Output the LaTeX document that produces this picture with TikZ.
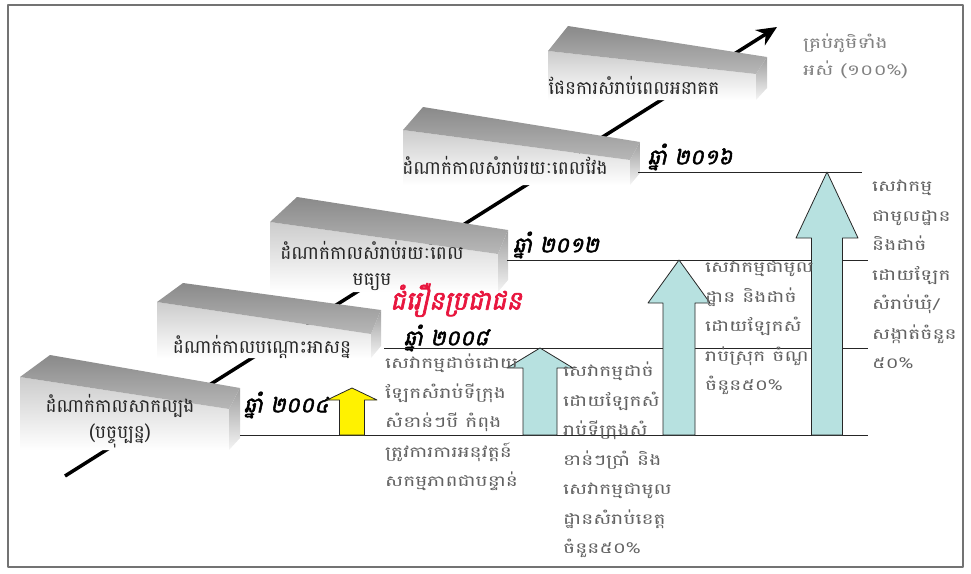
\documentclass[tikz,border=0pt]{standalone}
\usepackage{fontspec}
\newfontfamily\khmer[Script=Khmer]{Battambang}
\newfontfamily\khmerwide[Script=Khmer,FakeStretch=1.35]{Battambang}
\newfontfamily\khmeryear[Script=Khmer,FakeSlant=0.22,FakeBold=2.5]{Battambang}
\usetikzlibrary{arrows.meta,positioning}

\definecolor{upcyan}{RGB}{183,225,224}
\definecolor{censusred}{RGB}{232,22,62}

\tikzset{
  stage/.style={font=\khmer\fontsize{18.5}{26}\selectfont, text=black!85, align=center, inner sep=0pt},
  year/.style={font=\khmeryear\fontsize{21.5}{24}\selectfont, inner sep=0pt},
  note/.style={font=\khmerwide\fontsize{15}{29.5}\selectfont, text=black!62, align=left, anchor=north west, inner sep=0pt},
  uparrow/.style={draw=black!85, line width=0.8pt, fill=upcyan},
  yearline/.style={line width=1pt, black!85}
}

% brick: back left, back right, front right, front left, bottom
\newcommand{\brick}[9]{%
  \shade[top color=black!20, bottom color=white] (#7,#8) -- (#5,#6) -- (#5,#9) -- (#7,#9) -- cycle;
  \shade[top color=black!38, bottom color=black!4] (#5,#6) -- (#3,#4) -- (#3,{#9-12}) -- (#5,#9) -- cycle;
  \shade[top color=black!46, bottom color=black!28] (#1,#2) -- (#3,#4) -- (#5,#6) -- (#7,#8) -- cycle;
}

% up arrow: x, tip y, base y, head half width, shaft half width, head length
\newcommand{\uparr}[7][uparrow]{%
  \draw[#1] (#2,#3) -- ({#2+#5},{#3+#7}) -- ({#2+#6},{#3+#7}) -- ({#2+#6},#4)
    -- ({#2-#6},#4) -- ({#2-#6},{#3+#7}) -- ({#2-#5},{#3+#7}) -- cycle;
}

\begin{document}
\begin{tikzpicture}[x=1pt,y=-1pt,line join=round]
\useasboundingbox (0,0) rectangle (971,573);
\draw[black!55, line width=1.5pt] (8,5) rectangle (963,567);

% the trend line behind the stages
\coordinate (start) at (65,476);
\coordinate (future) at (777,27);
\draw[line width=3.5pt, -{Stealth[length=20pt,width=18pt]}] (start) -- (future);

\brick{568}{26}{767}{57}{756}{74}{548}{51}{100}
\brick{423}{107}{640}{142}{630}{160}{403}{130}{185}
\brick{297}{197}{508}{230}{498}{254}{270}{222}{292}
\brick{183}{283}{381}{310}{371}{334}{157}{302}{358}
\brick{50}{355}{240}{388}{229}{409}{20}{377}{450}

\node[stage] (s5) at (634,85) {ផែនការសំរាប់ពេលអនាគត};
\node[stage] (s4) at (505,165) {ដំណាក់កាលសំរាប់រយៈពេលវែង};
\node[stage] (s3) at (372,266) {ដំណាក់កាលសំរាប់រយៈពេល\\មធ្យម};
\node[stage] (s2) at (262,347) {ដំណាក់កាលបណ្ដោះអាសន្ន};
\node[stage] (s1) at (120,421) {ដំណាក់កាលសាកល្បង\\(បច្ចុប្បន្ន)};

% years and their lines
\node[year] (y2004) at (286,405) {ឆ្នាំ ២០០៤};
\node[year] (y2008) at (446,338) {ឆ្នាំ ២០០៨};
\node[year] (y2012) at (556,245) {ឆ្នាំ ២០១២};
\node[year] (y2016) at (690,157) {ឆ្នាំ ២០១៦};
\node[year, text=censusred, font=\khmeryear\fontsize{26}{28}\selectfont] (census) at (456,300) {ជំរឿនប្រជាជន};

\coordinate (e2004) at (868,435);
\coordinate (e2008) at (868,348);
\coordinate (e2012) at (868,260);
\coordinate (e2016) at (862,172);
\draw[yearline] (240,435) -- (e2004);
\draw[yearline] (384,348) -- (e2008);
\draw[yearline] (507,260) -- (e2012);
\draw[yearline] (638,172) -- (e2016);

\uparr[uparrow, fill=yellow]{352}{388}{435}{25}{12.5}{12}
\uparr{540}{348}{435}{33}{17}{20}
\uparr{679}{260}{435}{31}{16}{43}
\uparr{827}{172}{435}{31}{15.5}{66}

\node[note] (n2) at (385,354) {សេវាកម្មដាច់ដោយ\\ឡែកសំរាប់ទីក្រុង\\សំខាន់ៗបី កំពុង\\ត្រូវការការអនុវត្តន៍\\សកម្មភាពជាបន្ទាន់};
\node[note] (n3) at (563,362) {សេវាកម្មដាច់\\ដោយឡែកសំ\\រាប់ទីក្រុងសំ\\ខាន់ៗប្រាំ និង\\សេវាកម្មជាមូល\\ដ្ឋានសំរាប់ខេត្ត\\ចំនួន៥០\%};
\node[note] (n4) at (705,261) {សេវាកម្មជាមូល\\ដ្ឋាន និងដាច់\\ដោយឡែកសំ\\រាប់ស្រុក ចំណួ\\ចំនួន៥០\%};
\node[note] (n5) at (872,180) {សេវាកម្ម\\ជាមូលដ្ឋាន\\និងដាច់\\ដោយឡែក\\សំរាប់ឃុំ/\\សង្កាត់ចំនួន\\៥០\%};
\node[note, text=black!50, font=\khmerwide\fontsize{15}{27}\selectfont] (goal) at (803,34) {គ្រប់ភូមិទាំង\\អស់ (១០០\%)};
\end{tikzpicture}
\end{document}
